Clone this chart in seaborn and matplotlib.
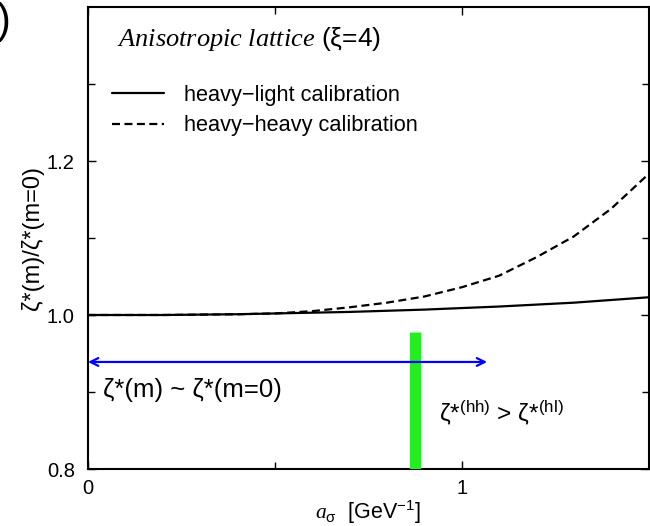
import numpy as np
import pandas as pd
import matplotlib.pyplot as plt
import seaborn as sns

# values
a_sigma = [0.0, 0.1, 0.2, 0.3, 0.4, 0.5, 0.6, 0.7, 0.8, 0.9, 1.0, 1.1, 1.2, 1.3, 1.4, 1.5]
ratio_hl = [1.0, 1.0, 1.0, 1.0005, 1.001, 1.002, 1.003, 1.004, 1.0055, 1.007,
            1.009, 1.011, 1.0135, 1.016, 1.0195, 1.023]
ratio_hh = [1.0, 1.0, 1.0, 1.0005, 1.001, 1.002, 1.005, 1.010, 1.016, 1.024,
            1.036, 1.051, 1.075, 1.102, 1.138, 1.183]

# annotations
arrow_x = [0.0, 1.068]
arrow_y = 0.939
band_x = 0.876
band_y = [0.8, 0.978]

sns.set_style('ticks')
plt.rcParams['font.family'] = ['Liberation Sans', 'DejaVu Sans']
plt.rcParams['mathtext.fontset'] = 'custom'
plt.rcParams['mathtext.rm'] = 'Liberation Sans'
plt.rcParams['mathtext.it'] = 'Liberation Serif:italic'
plt.rcParams['mathtext.default'] = 'regular'
for k in ['text.color', 'axes.labelcolor', 'xtick.color', 'ytick.color', 'axes.edgecolor']:
    plt.rcParams[k] = 'black'

fig = plt.figure(figsize=(6.5, 5.26), dpi=100)
ax = fig.add_axes([88 / 650, 57 / 526, 560.5 / 650, 462 / 526])

sns.lineplot(x=a_sigma, y=ratio_hl, ax=ax, color='black', lw=1.6,
             label='heavy\u2212light calibration')
sns.lineplot(x=a_sigma, y=ratio_hh, ax=ax, color='black', lw=1.6,
             dashes=(3.6, 2.0), label='heavy\u2212heavy calibration')

# green band and blue arrow
ax.plot([band_x, band_x], band_y, color='#22ee22', lw=8, solid_capstyle='butt', zorder=3)
ax.annotate('', xy=(arrow_x[0], arrow_y), xytext=(arrow_x[1], arrow_y),
            arrowprops=dict(arrowstyle='<->', color='#0000ff', lw=1.6,
                            mutation_scale=14, shrinkA=0, shrinkB=0), zorder=4)

ax.text(0.04, 0.9025, '\u03b6*(m) ~ \u03b6*(m=0)', fontsize=18.5, va='center')
ax.text(0.94, 0.873, '\u03b6*$^{(hh)}$ > \u03b6*$^{(hl)}$', fontsize=17.5, va='center')
ax.text(0.0775, 1.358, r'$\mathit{Anisotropic\ lattice}$ (' + '\u03be=4)',
        fontsize=19, va='center')

ax.legend(loc='upper left', bbox_to_anchor=(0.042, 0.831), frameon=False, fontsize=15.7,
          handlelength=2.4, handletextpad=0.92, labelspacing=0.42, borderpad=0,
          borderaxespad=0)

ax.set_xlim(0, 1.5)
ax.set_ylim(0.8, 1.4)
ax.set_xticks([0, 1])
ax.set_xticks([0.5], minor=True)
ax.set_yticks([0.8, 1.0, 1.2])
ax.set_yticks([0.9, 1.1, 1.3], minor=True)
ax.set_xticklabels(['0', '1'])
ax.set_yticklabels(['0.8', '1.0', '1.2'])
ax.tick_params(which='both', direction='in', top=True, right=True, width=1, labelsize=14.5)
ax.tick_params(which='major', length=6)
ax.tick_params(which='minor', length=5)
ax.tick_params(axis='y', pad=9.5)
ax.tick_params(axis='x', pad=7)
for s in ax.spines.values():
    s.set_linewidth(1.5)

ax.set_xlabel(r'$\mathit{a}_{\sigma}$  [GeV$^{-1}$]', fontsize=15.5, labelpad=0)
ax.set_ylabel('\u03b6*(m)/\u03b6*(m=0)', fontsize=17, labelpad=2)

# clipped panel label at the top-left corner
fig.text(11 / 650, 1 - 22 / 526, '(b)', fontsize=30, ha='right', va='center')

fig.savefig('out.png', dpi=100)
